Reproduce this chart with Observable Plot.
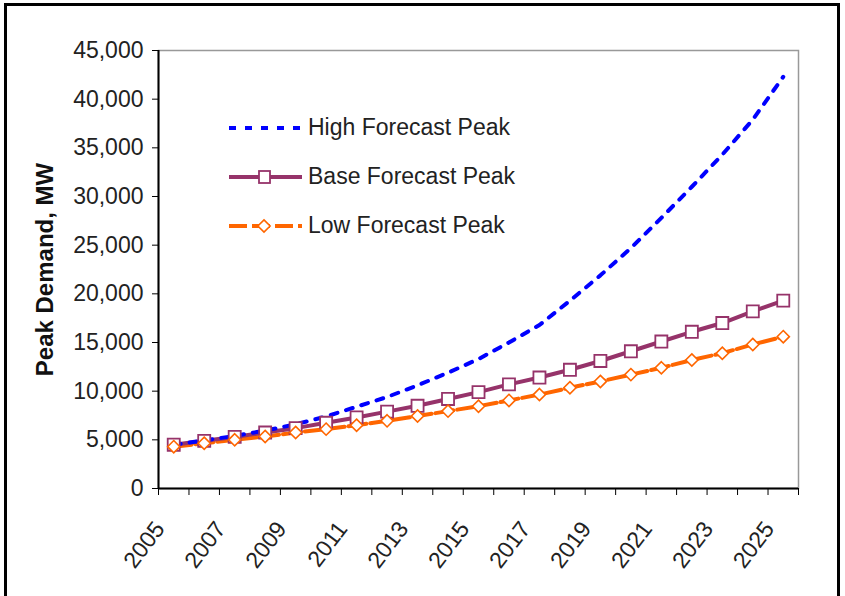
<!DOCTYPE html>
<html>
<head>
<meta charset="utf-8">
<script src="https://cdn.jsdelivr.net/npm/d3@7"></script>
<script src="https://cdn.jsdelivr.net/npm/@observablehq/plot@0.6"></script>
<style>
  html, body { margin: 0; padding: 0; background: #fff; }
  #wrap { position: relative; width: 845px; height: 596px; overflow: hidden; font-family: "Liberation Sans", Arial, sans-serif; }
  #border { position: absolute; left: 4px; top: 3px; width: 836px; height: 700px; border: 3px solid #000; box-sizing: border-box; }
  #legend { position: absolute; left: 226px; top: 103px; font-size: 23px; color: #222; }
  #legend .row { display: flex; align-items: center; height: 49px; }
  #legend svg { margin-right: 4px; }
</style>
</head>
<body>
<div id="wrap">
  <div id="border"></div>
  <div id="chart"></div>
  <div id="legend"></div>
</div>
<script>
const years = d3.range(2005, 2026);
const highForecast = [4500, 4950, 5400, 5950, 6600, 7400, 8400, 9400, 10600, 11900, 13300, 15000, 16800, 19300, 21900, 24700, 27800, 31000, 34300, 37900, 42300];
const baseForecast = [4500, 4900, 5300, 5750, 6200, 6750, 7300, 7900, 8500, 9200, 9900, 10700, 11400, 12200, 13100, 14100, 15100, 16100, 17000, 18200, 19300];
const lowForecast  = [4300, 4650, 5000, 5350, 5750, 6100, 6500, 6950, 7450, 7950, 8450, 9050, 9650, 10350, 11000, 11700, 12400, 13200, 13900, 14800, 15600];
const yTicks = d3.range(0, 45001, 5000);
const labelYears = years.filter((y, i) => i % 2 === 0);
const seriesNames = ["High Forecast Peak", "Base Forecast Peak", "Low Forecast Peak"];

const high = years.map((y, i) => ({year: y, value: highForecast[i]}));
const base = years.map((y, i) => ({year: y, value: baseForecast[i]}));
const low  = years.map((y, i) => ({year: y, value: lowForecast[i]}));
const boundaries = years.map(y => y - 0.5).concat([years[years.length - 1] + 0.5]);

const colors = {high: "#0000ff", base: "#96336a", low: "#ff6600"};

const chart = Plot.plot({
  width: 845,
  height: 596,
  marginLeft: 158,
  marginRight: 47,
  marginTop: 50,
  marginBottom: 108,
  style: {fontFamily: "'Liberation Sans', Arial, sans-serif", background: "transparent", color: "#222"},
  x: {type: "linear", domain: [boundaries[0], boundaries[boundaries.length - 1]], axis: null},
  y: {domain: [0, 45000], axis: null},
  marks: [
    Plot.frame({stroke: "#999", strokeWidth: 1.5}),
    Plot.axisY(yTicks, {tickSize: 6, tickPadding: 9, tickFormat: d3.format(","), fontSize: 23, label: null, stroke: "#000"}),
    Plot.axisX(boundaries, {tickSize: 7, tickFormat: () => "", label: null, stroke: "#000"}),
    Plot.axisX(labelYears, {tickSize: 0, tickPadding: 36, tickRotate: -53, fontSize: 23, dx: -14, label: null, tickFormat: d => String(d)}),
    Plot.ruleY([0], {stroke: "#000", strokeWidth: 2}),
    Plot.ruleX([boundaries[0]], {stroke: "#000", strokeWidth: 2}),
    Plot.text(["Peak Demand, MW"], {frameAnchor: "left", textAnchor: "middle", dx: -113, rotate: -90, fontSize: 24, fontWeight: "bold", fill: "#111"}),
    Plot.line(low, {x: "year", y: "value", stroke: colors.low, strokeWidth: 4, strokeDasharray: "18,4"}),
    Plot.line(base, {x: "year", y: "value", stroke: colors.base, strokeWidth: 4}),
    Plot.line(high, {x: "year", y: "value", stroke: colors.high, strokeWidth: 4, strokeDasharray: "7,9"}),
    Plot.dot(base, {x: "year", y: "value", symbol: "square", r: 6.8, fill: "#fff", stroke: colors.base, strokeWidth: 1.8}),
    Plot.dot(low, {x: "year", y: "value", symbol: d3.symbolDiamond2, r: 5.5, fill: "#fff", stroke: colors.low, strokeWidth: 1.6})
  ]
});
document.getElementById("chart").appendChild(chart);

// legend
const legend = d3.select("#legend");
const styles = [
  {color: colors.high, dash: "7,9", marker: null},
  {color: colors.base, dash: null, marker: "square"},
  {color: colors.low, dash: "18,5", marker: "diamond"}
];
seriesNames.forEach((name, i) => {
  const row = legend.append("div").attr("class", "row");
  const svg = row.append("svg").attr("width", 78).attr("height", 20);
  const s = styles[i];
  svg.append("line").attr("x1", 3).attr("x2", 76).attr("y1", 10).attr("y2", 10)
    .attr("stroke", s.color).attr("stroke-width", 4)
    .attr("stroke-dasharray", s.dash);
  if (s.marker === "square") {
    svg.append("rect").attr("x", 33).attr("y", 4).attr("width", 11).attr("height", 12)
      .attr("fill", "#fff").attr("stroke", s.color).attr("stroke-width", 1.8);
  } else if (s.marker === "diamond") {
    svg.append("path").attr("d", d3.symbol(d3.symbolDiamond2, 95)()).attr("transform", "translate(38,10)")
      .attr("fill", "#fff").attr("stroke", s.color).attr("stroke-width", 1.6);
  }
  row.append("span").text(name);
});
</script>
</body>
</html>
